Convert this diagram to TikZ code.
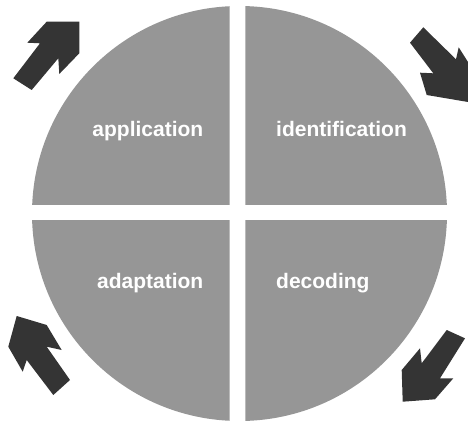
\documentclass[tikz,border=0pt]{standalone}
\usepackage{fontspec}
\setmainfont{Liberation Sans}
\definecolor{segfill}{RGB}{150,150,150}
\definecolor{arrowfill}{RGB}{52,52,52}
\begin{document}
\begin{tikzpicture}[x=1pt,y=-1pt,
  segment/.style={fill=segfill},
  cyclearrow/.style={fill=arrowfill},
  seglabel/.style={text=white,font=\fontsize{21}{24}\selectfont\bfseries,inner sep=0pt}]
\useasboundingbox (0,0) rectangle (468,422);
\coordinate (c) at (239.5,213.5);

% four quarters of the disc, separated by white gaps
\begin{scope}
  \clip (0,0) rectangle (229.5,204);
  \fill[segment] (c) circle[radius=207.5pt];
\end{scope}
\begin{scope}
  \clip (245.3,0) rectangle (468,204);
  \fill[segment] (c) circle[radius=207.5pt];
\end{scope}
\begin{scope}
  \clip (0,220) rectangle (229.5,422);
  \fill[segment] (c) circle[radius=207.5pt];
\end{scope}
\begin{scope}
  \clip (245.3,220) rectangle (468,422);
  \fill[segment] (c) circle[radius=207.5pt];
\end{scope}

% labels
\node[seglabel,anchor=base east] (app) at (203.5,136.7) {application};
\node[seglabel,anchor=base west] (ident) at (276,136.7) {identification};
\node[seglabel,anchor=base east] (adapt) at (203.5,288.3) {adaptation};
\node[seglabel,anchor=base west] (dec) at (276,288.3) {decoding};

% clockwise cycle arrows
\fill[cyclearrow] (27.3,42.7) -- (46.7,21.7) -- (79.3,21.7) -- (79.3,53.3)
  -- (59.3,74) -- (58.3,58.3) -- (31.7,90) -- (13.3,78.3) -- (40,43.3) -- cycle;
\fill[cyclearrow] (410,42.7) -- (423.3,27.3) -- (456,59.3) -- (458.7,47.3)
  -- (468,62) -- (468,102) -- (426.7,95) -- (420,72.7) -- (433.3,73.3) -- cycle;
\fill[cyclearrow] (446.7,330) -- (465,338.3) -- (440,378.3) -- (453.3,378.3)
  -- (435,399.3) -- (402.7,401.7) -- (401.7,370) -- (420,348.3) -- (421.7,363.3) -- cycle;
\fill[cyclearrow] (16.7,316) -- (46.7,325) -- (61.7,350) -- (46.7,346.7)
  -- (70,380) -- (53.3,395) -- (26.7,360) -- (22.7,371.7) -- (8.3,346.7) -- cycle;
\end{tikzpicture}
\end{document}
